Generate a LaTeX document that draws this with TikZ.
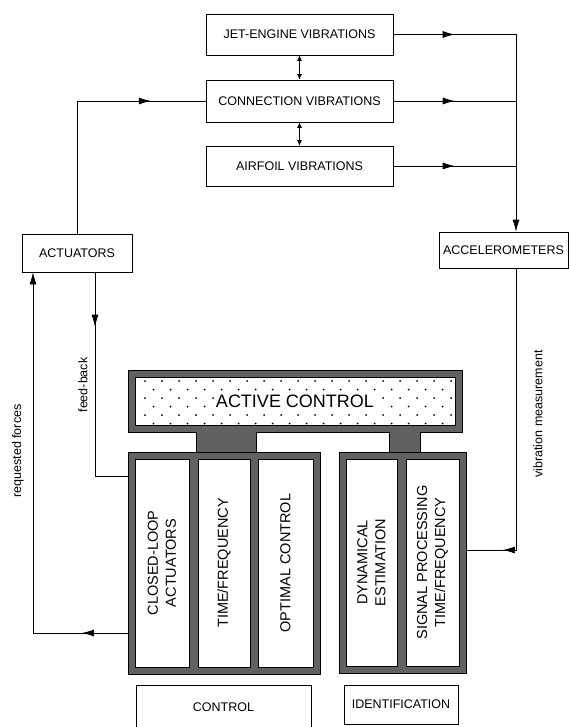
\documentclass[tikz,border=0pt]{standalone}
\usepackage{fontspec}
\setmainfont{Liberation Sans}
\usetikzlibrary{arrows.meta,decorations.markings}
\tikzset{box/.style={draw,line width=.7pt,inner sep=0pt,font=\fontsize{12.5}{15}\selectfont},
  band/.style={draw,fill=black!62,line width=.9pt,inner sep=0pt},
  col/.style={draw,fill=white,line width=.9pt,inner sep=0pt,align=center,font=\fontsize{14.5}{18}\selectfont,rotate=90,minimum width=208},
  lbl/.style={font=\fontsize{12.5}{15}\selectfont,inner sep=0pt},
  line/.style={line width=.7pt},
  arr/.style={-{Latex[length=12pt,width=7pt]}},
  dbl/.style={line width=.7pt,{Latex[length=5.5pt,width=5pt]}-{Latex[length=5.5pt,width=5pt]}},
  midarr/.style={postaction={decorate},decoration={markings,mark=at position #1 with {\arrow{Latex[length=12pt,width=7pt]}}}}}

\begin{document}
\begin{tikzpicture}[x=1pt,y=-1pt]
\useasboundingbox (0,0) rectangle (569,727);
% vibration sources
\node[box,minimum width=187,minimum height=41] (jeteng) at (299.5,34.5) {JET-ENGINE VIBRATIONS};
\node[box,minimum width=187,minimum height=42] (connvib) at (299.5,101) {CONNECTION VIBRATIONS};
\node[box,minimum width=187,minimum height=40] (airvib) at (299.5,166) {AIRFOIL VIBRATIONS};
\node[box,minimum width=110,minimum height=38] (actu) at (77,253) {ACTUATORS};
\node[box,minimum width=129,minimum height=36] (accel) at (503.5,250) {ACCELEROMETERS};
\coordinate (bus) at (516,34.5);
% active control block
\node[band,minimum width=334,minimum height=62] (actctl) at (295,401) {};
\draw[line width=.9pt,fill=white] (135,377) rectangle (455,425);
\foreach \r in {0,...,5}{
  \foreach \c in {0,...,18}{
    \pgfmathsetmacro\dx{145+17*\c+8.5*mod(\r,2)}
    \ifdim\dx pt<452pt \fill (\dx,381+8.5*\r) circle (1pt);\fi
  }
}
\node[fill=white,inner sep=1.5pt,font=\fontsize{18}{20}\selectfont] (actlbl) at (actctl) {ACTIVE CONTROL};
\fill[black!62] (196,431) rectangle (256,453);
\fill[black!62] (389,431) rectangle (420,453);
\draw[line width=.9pt] (196,432)--(196,452) (256,432)--(256,452) (389,432)--(389,452) (420,432)--(420,452);
% control and identification groups
\node[band,minimum width=192,minimum height=222] (ctlgrp) at (224,563) {};
\node[band,minimum width=127,minimum height=221] (idgrp) at (402.5,562.5) {};
\node[col,minimum height=54] (clact) at (162,563) {CLOSED-LOOP\\ACTUATORS};
\node[col,minimum height=52] (timefreq) at (224,563) {TIME/FREQUENCY};
\node[col,minimum height=55] (optctl) at (285.5,563) {OPTIMAL CONTROL};
\node[col,minimum height=51,minimum width=207] (dynest) at (371.5,562.5) {DYNAMICAL\\ESTIMATION};
\node[col,minimum height=53,minimum width=207] (sigproc) at (432.5,562.5) {SIGNAL PROCESSING\\TIME/FREQUENCY};
\node[box,minimum width=175,minimum height=44] (ctlbox) at (223.5,707) {CONTROL};
\node[box,minimum width=114,minimum height=39] (idbox) at (401,704.5) {IDENTIFICATION};
% labels
\node[lbl,rotate=90] (reqlbl) at (18,451) {requested forces};
\node[lbl,rotate=90] (fblbl) at (83,385) {feed-back};
\node[lbl,rotate=90] (vmlbl) at (538,414) {vibration measurement};
% connectors
\draw[dbl] (jeteng)--(connvib);
\draw[dbl] (connvib)--(airvib);
\draw[line,midarr=.5] (jeteng.east)--(bus);
\draw[line,midarr=.5] (connvib.east)--(connvib.east -| bus);
\draw[line,midarr=.5] (airvib.east)--(airvib.east -| bus);
\draw[line,arr] (bus)--(bus |- accel.north);
\draw[line,midarr=.79] (actu.north)|-(connvib.west);
\draw[line,midarr=.23] ([xshift=18pt]actu.south)|-([yshift=87pt]ctlgrp.west);
\draw[line,arr,midarr=.1] ([yshift=-70pt]ctlgrp.west)-|([xshift=-44pt]actu.south);
\draw[line,midarr=.89] (accel.south -| bus)|-([yshift=12.5pt]idgrp.east);
\end{tikzpicture}
\end{document}
